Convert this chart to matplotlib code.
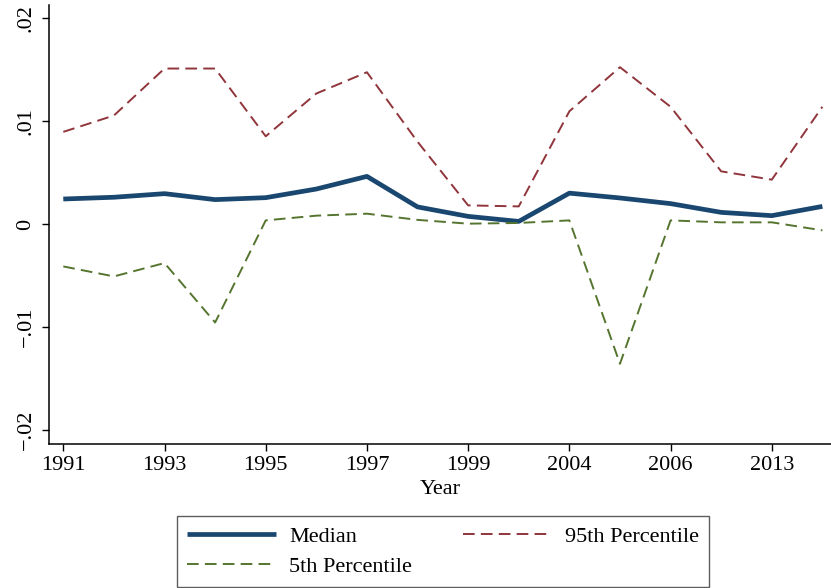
import matplotlib
matplotlib.use("Agg")
import matplotlib.pyplot as plt
import numpy as np

years = ["1991", "1992", "1993", "1994", "1995", "1996", "1997", "1998",
         "1999", "2001", "2004", "2005", "2006", "2009", "2013", "2015"]
median = [0.00243, 0.0026, 0.00295, 0.00237, 0.00256, 0.0034, 0.00463, 0.00166,
          0.00074, 0.00025, 0.0030, 0.00253, 0.00198, 0.00113, 0.00081, 0.00171]
p95 = [0.00896, 0.01055, 0.01512, 0.01512, 0.00853, 0.01269, 0.01476, 0.0080,
       0.00181, 0.00171, 0.01096, 0.01525, 0.0114, 0.00512, 0.00431, 0.0114]
p5 = [-0.00413, -0.0051, -0.0038, -0.00958, 0.00035, 0.00081, 0.0010, 0.0004,
      0.00003, 0.0001, 0.00035, -0.0136, 0.00035, 0.00016, 0.00016, -0.00062]
yticks = [-0.02, -0.01, 0, 0.01, 0.02]
ytick_labels = ["\u2212.02", "\u2212.01", "0", ".01", ".02"]

plt.rcParams['font.family'] = ['Liberation Serif', 'DejaVu Serif']

fig = plt.figure(figsize=(8.31, 5.88), dpi=100)
ax = fig.add_axes([0.0593, 0.2449, 0.9407, 0.7466])

x = np.arange(len(years))
navy = "#1a476f"
maroon = "#90353b"
green = "#55752f"

l1, = ax.plot(x, median, color=navy, lw=3.4, solid_capstyle='butt', label="Median")
l3, = ax.plot(x, p5, color=green, lw=1.4, dashes=(6, 3.2), label="5th Percentile")
l2, = ax.plot(x, p95, color=maroon, lw=1.4, dashes=(6, 3.2), label="95th Percentile")

ax.set_xlim(-0.277, 15.17)
ax.set_ylim(-0.0214, 0.0213)
ax.set_xticks(x[::2])
ax.set_xticklabels(years[::2], fontsize=16)
ax.set_yticks(yticks)
ax.set_yticklabels(ytick_labels, fontsize=16, rotation=90, va='center')
ax.tick_params(direction='out', length=5, width=1, colors='black', pad=4)
ax.tick_params(axis='y', pad=5)
ax.spines['top'].set_visible(False)
ax.spines['right'].set_visible(False)
ax.spines['left'].set_linewidth(1.1)
ax.spines['bottom'].set_linewidth(1.1)
ax.set_xlabel("Year", fontsize=16, labelpad=3)

leg = fig.legend(handles=[l1, l3, l2], ncol=2, loc='upper center',
                 bbox_to_anchor=(0.533, 0.1224), fontsize=16, frameon=True,
                 fancybox=False, edgecolor='#333333', handlelength=4.0,
                 handletextpad=0.6, columnspacing=2.3, labelspacing=0.45,
                 borderpad=0.45, borderaxespad=0)
leg.get_frame().set_linewidth(1.0)

fig.savefig("out.png", dpi=100, facecolor='white')
